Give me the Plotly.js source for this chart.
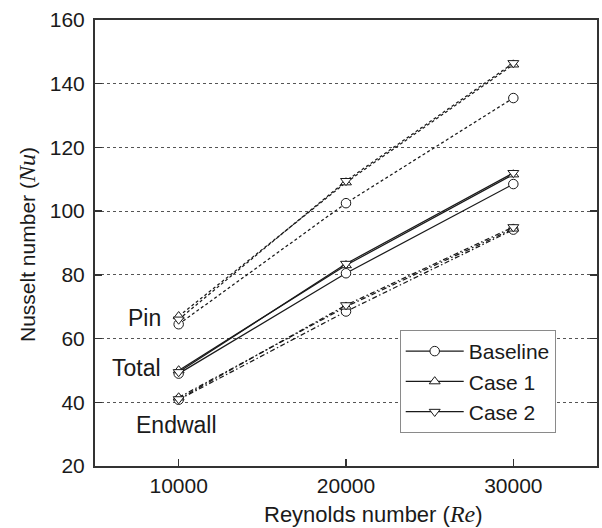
<!DOCTYPE html>
<html>
<head>
<meta charset="utf-8">
<script src="https://cdn.plot.ly/plotly-3.0.1.min.js"></script>
<style>
  html, body { margin: 0; padding: 0; background: #fff; }
  #chart { width: 602px; height: 528px; }
</style>
</head>
<body>
<div id="chart"></div>
<script>
// Reynolds numbers tested
const reynolds = [10000, 20000, 30000];

// Case labels
const cases = ['Baseline', 'Case 1', 'Case 2'];

// Pin-fin surface Nusselt number
const pinBaseline = [64.5, 102.5, 135.5];
const pinCase1    = [67.0, 109.0, 146.0];
const pinCase2    = [66.0, 109.5, 146.5];

// Total (area-weighted) Nusselt number
const totalBaseline = [49.0, 80.5, 108.5];
const totalCase1    = [50.0, 83.0, 111.5];
const totalCase2    = [49.5, 83.5, 112.0];

// Endwall Nusselt number
const endwallBaseline = [40.8, 68.5, 94.2];
const endwallCase1    = [41.5, 70.0, 94.5];
const endwallCase2    = [41.0, 70.5, 95.0];

// Axis ticks
const yTicks = [20, 40, 60, 80, 100, 120, 140, 160];
const xTicks = [10000, 20000, 30000];

const symbols = ['circle', 'triangle-up', 'triangle-down'];
const ink = '#1a1a1a';

function series(y, caseIdx, dash, legend) {
  return {
    x: reynolds,
    y: y,
    type: 'scatter',
    mode: 'lines+markers',
    name: cases[caseIdx],
    showlegend: legend,
    line: { color: ink, width: 1.25, dash: dash },
    marker: {
      symbol: symbols[caseIdx],
      size: 9.5,
      color: '#ffffff',
      line: { color: ink, width: 1 }
    },
    cliponaxis: false
  };
}

const pinDash = '3px,2.5px';
const wallDash = '5px,2.5px,1.5px,2.5px';

const traces = [
  series(pinBaseline, 0, pinDash, false),
  series(pinCase1, 1, pinDash, false),
  series(pinCase2, 2, pinDash, false),
  series(endwallBaseline, 0, wallDash, false),
  series(endwallCase1, 1, wallDash, false),
  series(endwallCase2, 2, wallDash, false),
  series(totalBaseline, 0, 'solid', true),
  series(totalCase1, 1, 'solid', true),
  series(totalCase2, 2, 'solid', true)
];

const font = 'Liberation Sans, Arial, sans-serif';
const mathSpan = t => '<span style="font-family:\'Liberation Serif\', serif;font-style:italic;font-size:24px">' + t + '</span>';
const labelFont = { size: 23, family: font, color: ink };

// Plot area in pixels (from the margins below)
const M = { l: 95, r: 5, t: 20, b: 62 };
const plotW = 602 - M.l - M.r, plotH = 528 - M.t - M.b;
const px2paperX = px => (px - M.l) / plotW;
const px2paperY = py => (M.t + plotH - py) / plotH;

const layout = {
  width: 602,
  height: 528,
  margin: M,
  paper_bgcolor: '#ffffff',
  plot_bgcolor: '#ffffff',
  font: { family: font, color: ink, size: 20 },
  showlegend: true,
  legend: {
    x: 0.607, y: 0.305, xanchor: 'left', yanchor: 'top',
    bgcolor: '#ffffff',
    bordercolor: '#8a8a8a',
    borderwidth: 1,
    font: { family: font, size: 21, color: ink },
    traceorder: 'normal',
    tracegroupgap: 0,
    itemwidth: 58
  },
  xaxis: {
    range: [5000, 35000],
    tickvals: xTicks,
    ticktext: xTicks.map(String),
    ticks: 'inside',
    ticklen: 7,
    tickwidth: 1.2,
    tickcolor: '#333',
    showline: true,
    linecolor: '#333',
    linewidth: 2,
    mirror: true,
    showgrid: false,
    zeroline: false,
    tickfont: { size: 21 }
  },
  yaxis: {
    range: [20, 160],
    tickvals: yTicks,
    ticks: 'inside',
    ticklen: 7,
    tickwidth: 1.5,
    tickcolor: '#333',
    showline: true,
    linecolor: '#333',
    linewidth: 2,
    mirror: 'ticks',
    showgrid: true,
    gridcolor: '#555',
    gridwidth: 1,
    griddash: 'dot',
    zeroline: false,
    tickfont: { size: 21 },
    ticklabelstandoff: 4
  },
  annotations: [
    // axis titles as paper annotations so the math part can hang past centre
    {
      x: px2paperX(373), y: px2paperY(514),
      xref: 'paper', yref: 'paper', xanchor: 'center', yanchor: 'middle',
      text: 'Reynolds number (' + mathSpan('Re') + ')', showarrow: false,
      font: { size: 22, family: font, color: ink }
    },
    {
      x: px2paperX(27), y: px2paperY(245),
      xref: 'paper', yref: 'paper', xanchor: 'center', yanchor: 'middle',
      textangle: -90,
      text: 'Nusselt number (' + mathSpan('Nu') + ')', showarrow: false,
      font: { size: 21, family: font, color: ink }
    },
    // curve-group labels
    { x: 9050, y: 66.6, xref: 'x', yref: 'y', text: 'Pin', showarrow: false, xanchor: 'right', yanchor: 'middle', font: labelFont },
    { x: 9050, y: 50.9, xref: 'x', yref: 'y', text: 'Total', showarrow: false, xanchor: 'right', yanchor: 'middle', font: labelFont },
    { x: 9900, y: 33.0, xref: 'x', yref: 'y', text: 'Endwall', showarrow: false, xanchor: 'center', yanchor: 'middle', font: labelFont }
  ]
};

Plotly.newPlot('chart', traces, layout, { staticPlot: true, displayModeBar: false });
</script>
</body>
</html>
